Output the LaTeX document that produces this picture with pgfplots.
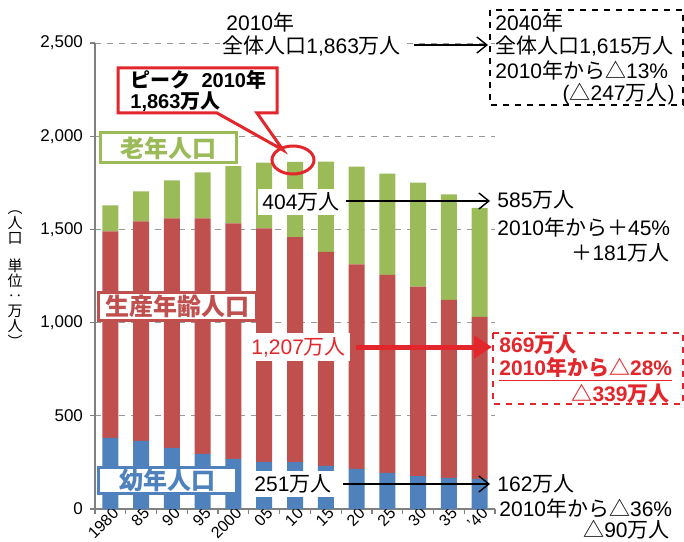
\documentclass[border=0pt]{standalone}
\usepackage{graphicx}
\usepackage{pgfplots}
\pgfplotsset{compat=1.18}
\usepackage{fontspec}
\setmainfont{Liberation Sans}
\newfontfamily\jp{Noto Sans CJK JP}
\newcommand\J[1]{{\jp #1}}
\usetikzlibrary{arrows.meta}
\definecolor{cBlue}{HTML}{4F81BD}
\definecolor{cRed}{HTML}{C0504D}
\definecolor{cGreen}{HTML}{9BBB59}
\definecolor{cRedT}{HTML}{E3262B}
\newcommand\fa{\fontsize{10.5}{12}\selectfont}

\begin{document}
\begin{tikzpicture}
% 1 px of the reference = 0.5pt, axis corner (px 95,509) at the origin
\useasboundingbox (-47.5pt,-16pt) rectangle (294.5pt,254.5pt);
\begin{axis}[
    at={(0pt,0pt)}, anchor=south west,
    scale only axis, width=200pt, height=233pt,
    ybar stacked, bar width=8pt,
    xmin=-0.5, xmax=12.5, ymin=0, ymax=2500,
    axis x line*=bottom, axis y line*=left,
    axis line style={gray, line width=0.6pt},
    tick style={gray, line width=0.6pt},
    tick align=outside, major tick length=2.5pt,
    xtick={-0.5,0.5,...,12.5}, xticklabels={},
    extra x ticks={0,...,12},
    extra x tick labels={1980,85,90,95,2000,05,10,15,20,25,30,35,’40},
    extra x tick style={major tick length=0pt, grid=none,
        tick label style={rotate=45, anchor=north east, inner sep=0.5pt,
        xshift=2pt, yshift=1pt, font=\fontsize{8}{9}\selectfont}},
    ytick={0,500,...,2500},
    yticklabel style={font=\fontsize{8.5}{10}\selectfont,
        /pgf/number format/1000 sep={,},
        /pgf/number format/assume math mode=true},
    scaled y ticks=false,
    ymajorgrids, grid style={dashed, gray!80, line width=0.5pt},
    clip=false,
]
\addplot[fill=cBlue, draw=none] coordinates {
    (0,382) (1,366) (2,328) (3,296) (4,269) (5,253) (6,251)
    (7,231) (8,215) (9,194) (10,177) (11,167) (12,162)};
\addplot[fill=cRed, draw=none] coordinates {
    (0,1107) (1,1177) (2,1231) (3,1263) (4,1263) (5,1252) (6,1207)
    (7,1149) (8,1097) (9,1062) (10,1016) (11,955) (12,869)};
\addplot[fill=cGreen, draw=none] coordinates {
    (0,140) (1,161) (2,204) (3,247) (4,307) (5,353) (6,404)
    (7,484) (8,525) (9,543) (10,558) (11,566) (12,585)};
\end{axis}

\begin{scope}[x=0.5pt, y=-0.5pt, shift={(-47.5pt,254.5pt)}]
% y label, written top to bottom
\node[font=\jp\fontsize{7.5}{7.6}\selectfont, align=center, inner sep=0pt] at (15,279)
    {︵\\人\\口\\[6pt]単\\位\\‥\\万\\人\\︶};

% top: 2010 total and 2040 box
\node[font=\fa, fill=white, inner sep=1pt, anchor=west] at (224,22) {2010\J{年}};
\node[font=\fa, fill=white, inner sep=1pt, anchor=west] at (220,46) {\J{全体人口}1,863\J{万人}};
\draw[-{Straight Barb[length=5pt,width=8pt]}, line width=0.7pt] (414,45) -- (488,45);
\draw[dashed, line width=0.8pt] (490,10) rectangle (683,105);
\node[font=\fa, anchor=west, inner sep=1pt] at (493,22) {2040\J{年}};
\node[font=\fa, anchor=west, inner sep=1pt] at (493,46) {\J{全体人口}1,615\J{万人}};
\node[font=\fa, anchor=west, inner sep=1pt] at (493,70) {2010\J{年から△}13\%};
\node[font=\fa, anchor=east, inner sep=1pt] at (677,94) {(\J{△}247\J{万人})};

% peak callout
\draw[cRedT, line width=1.5pt, fill=white, line join=miter]
    (118,68) -- (277,68) -- (277,113) -- (257,113) -- (283,150)
    -- (217,113) -- (118,113) -- cycle;
\node[font=\fontsize{10}{12}\selectfont\bfseries, anchor=west, inner sep=0pt] at (130,80)
    {\J{ピーク}\ \ 2010\J{年}};
\node[font=\fontsize{10}{12}\selectfont\bfseries, anchor=west, inner sep=0pt] at (130,102)
    {1,863\J{万人}};
\draw[cRedT, line width=1.5pt] (293,160) ellipse [x radius=10.5pt, y radius=7pt];

% series labels
\node[draw=cGreen, line width=1.5pt, fill=white, text=cGreen,
    font=\jp\bfseries\fontsize{12}{14}\selectfont,
    minimum width=68pt, minimum height=15pt, inner sep=0pt] at (168.5,148) {老年人口};
\node[draw=cRed, line width=1.5pt, fill=white, text=cRed,
    font=\jp\bfseries\fontsize{12}{14}\selectfont,
    minimum width=79pt, minimum height=14pt, inner sep=0pt] at (177,306) {生産年齢人口};
\node[draw=cBlue, line width=1.5pt, fill=white, text=cBlue,
    font=\jp\bfseries\fontsize{12}{14}\selectfont,
    minimum width=69pt, minimum height=13pt, inner sep=0pt] at (167,480) {幼年人口};

% elderly
\node[font=\fa, fill=white, anchor=west, inner sep=2pt] at (258,202) {404\J{万人}};
\draw[-{Straight Barb[length=5pt,width=8pt]}, line width=0.7pt] (346,201) -- (490,201);
\node[font=\fa, anchor=west, inner sep=1pt] at (495,200) {585\J{万人}};
\node[font=\fa, anchor=west, inner sep=1pt] at (495,227) {2010\J{年から＋}45\%};
\node[font=\fa, anchor=east, inner sep=1pt] at (672,253) {\J{＋}181\J{万人}};

% working age
\node[font=\fa, text=cRedT, fill=white, anchor=west, inner sep=2pt] at (247,347) {1,207\J{万人}};
\draw[cRedT, line width=2.5pt, -{Triangle[length=9pt,width=11pt]}] (356,347) -- (492,347);
\draw[cRedT, dashed, line width=0.8pt] (493,333) rectangle (683,404);
\node[font=\fa\bfseries, text=cRedT, anchor=west, inner sep=1pt] at (497,345) {869\J{万人}};
\node[font=\fa\bfseries, text=cRedT, anchor=west, inner sep=1pt] at (497,370)
    {\underline{2010\J{年から△}28\%}};
\node[font=\fa\bfseries, text=cRedT, anchor=east, inner sep=1pt] at (672,394) {\J{△}339\J{万人}};

% young
\node[font=\fa, fill=white, anchor=west, inner sep=2pt] at (250,484) {251\J{万人}};
\draw[-{Straight Barb[length=5pt,width=8pt]}, line width=0.7pt] (343,484) -- (490,484);
\node[font=\fa, anchor=west, inner sep=1pt] at (495,484) {162\J{万人}};
\node[font=\fa, anchor=west, inner sep=1pt] at (497,508) {2010\J{年から△}36\%};
\node[font=\fa, anchor=east, inner sep=1pt] at (672,530) {\J{△}90\J{万人}};
\end{scope}
\end{tikzpicture}
\end{document}
